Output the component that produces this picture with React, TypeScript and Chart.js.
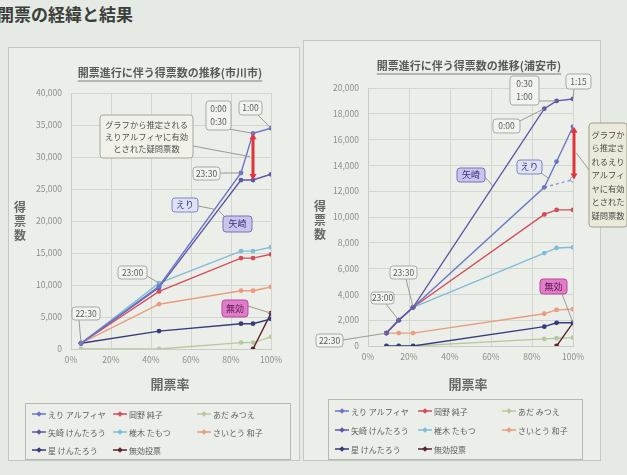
import React, { useEffect, useRef } from "react";
import { Chart, registerables } from "chart.js";
Chart.register(...registerables);

const JP = '"Noto Sans CJK JP", "Noto Sans", sans-serif';

// ---------- legend ----------
const seriesNames = ["えり アルフィヤ", "岡野 純子", "あだ みつえ", "矢崎 けんたろう", "椎木 たもつ", "さいとう 和子", "星 けんたろう", "無効投票"];
const seriesColors = ["#6a76c8", "#d24d5c", "#b7c99c", "#6058a4", "#80bdd7", "#e99d7d", "#363b7c", "#5a2632"];

// ---------- 市川市 ----------
const ichikawaRate = [5, 44, 85, 91, 100];
const ichikawaEri = [900, 9800, 27500, 33700, 34500];
const ichikawaOkano = [900, 9000, 14200, 14200, 14800];
const ichikawaAda = [0, 0, 1000, 1000, 1900];
const ichikawaYasaki = [900, 9600, 26400, 26400, 27300];
const ichikawaShiiki = [900, 10300, 15300, 15300, 15900];
const ichikawaSaito = [900, 7000, 9100, 9100, 9700];
const ichikawaHoshi = [900, 2800, 3950, 3950, 4700];
const ichikawaMukou = [null, null, null, 0, 5600];
const ichikawaTimes = [["22:30"], ["23:00"], ["23:30"], ["0:00", "0:30"], ["1:00"]];

// ---------- 浦安市 ----------
const urayasuRate = [9, 15, 22, 86, 92, 100];
const urayasuEri = [1000, 2000, 3000, 12300, 14300, 17000];
const urayasuEriEstimate = [null, null, null, 12300, null, 12900];
const urayasuOkano = [1000, 2000, 3000, 10200, 10550, 10550];
const urayasuAda = [0, 0, 0, 550, 600, 650];
const urayasuYasaki = [1000, 2000, 3000, 18400, 19000, 19150];
const urayasuShiiki = [1000, 2000, 3000, 7200, 7600, 7650];
const urayasuSaito = [1000, 1000, 1000, 2500, 2800, 2850];
const urayasuHoshi = [0, 0, 0, 1500, 1800, 1800];
const urayasuMukou = [null, null, null, null, 0, 1800];
const urayasuTimes = [["22:30"], ["23:00"], ["23:30"], ["0:00"], ["0:30", "1:00"], ["1:15"]];

const calloutText = ["グラフから推定される", "えりアルフィヤに有効", "とされた疑問票数"];
const calloutTextVertical = ["グラフか", "ら推定さ", "れるえり", "アルフィ", "ヤに有効", "とされた", "疑問票数"];

function pts(xs: number[], ys: (number | null)[]) {
  return xs.map((x, i) => ({ x, y: ys[i] })).filter((p) => p.y !== null);
}

function ds(label: string, color: string, data: any[], extra: any = {}) {
  return {
    label,
    data,
    borderColor: color,
    backgroundColor: color,
    pointBackgroundColor: color,
    pointBorderColor: color,
    borderWidth: 1.4,
    pointRadius: 2.4,
    pointBorderWidth: 0,
    tension: 0,
    ...extra,
  };
}

function rr(ctx: CanvasRenderingContext2D, x: number, y: number, w: number, h: number, r: number) {
  ctx.beginPath();
  ctx.moveTo(x + r, y);
  ctx.lineTo(x + w - r, y);
  ctx.quadraticCurveTo(x + w, y, x + w, y + r);
  ctx.lineTo(x + w, y + h - r);
  ctx.quadraticCurveTo(x + w, y + h, x + w - r, y + h);
  ctx.lineTo(x + r, y + h);
  ctx.quadraticCurveTo(x, y + h, x, y + h - r);
  ctx.lineTo(x, y + r);
  ctx.quadraticCurveTo(x, y, x + r, y);
  ctx.closePath();
}

type CalloutOpt = {
  box: number[]; // abs x,y,w,h
  lines: string[];
  anchor?: number[]; // abs
  target?: number[]; // canvas px
  fill?: string;
  stroke?: string;
  color?: string;
  size?: number;
  lh?: number;
  bold?: boolean;
};

function drawCallout(ctx: CanvasRenderingContext2D, o: number[], c: CalloutOpt) {
  const [bx, by, bw, bh] = c.box;
  const x = bx - o[0];
  const y = by - o[1];
  if (c.anchor && c.target) {
    ctx.save();
    ctx.strokeStyle = "#8d918c";
    ctx.lineWidth = 0.9;
    ctx.beginPath();
    ctx.moveTo(c.anchor[0] - o[0], c.anchor[1] - o[1]);
    ctx.lineTo(c.target[0], c.target[1]);
    ctx.stroke();
    ctx.restore();
  }
  ctx.save();
  rr(ctx, x, y, bw, bh, 3);
  ctx.fillStyle = c.fill || "#f2f3ef";
  ctx.fill();
  ctx.strokeStyle = c.stroke || "#a7aba6";
  ctx.lineWidth = 1;
  ctx.stroke();
  const size = c.size || 8.5;
  const lh = c.lh || size + 3;
  ctx.font = `${c.bold ? "bold " : ""}${size}px ${JP}`;
  ctx.fillStyle = c.color || "#5a5e5a";
  ctx.textAlign = "center";
  ctx.textBaseline = "middle";
  const n = c.lines.length;
  c.lines.forEach((t, i) => {
    ctx.fillText(t, x + bw / 2, y + bh / 2 + (i - (n - 1) / 2) * lh);
  });
  ctx.restore();
}

function redArrow(ctx: CanvasRenderingContext2D, x: number, yTop: number, yBot: number) {
  ctx.save();
  ctx.strokeStyle = "#e2323b";
  ctx.fillStyle = "#e2323b";
  ctx.lineWidth = 3;
  ctx.beginPath();
  ctx.moveTo(x, yTop + 4);
  ctx.lineTo(x, yBot - 4);
  ctx.stroke();
  ctx.beginPath();
  ctx.moveTo(x, yTop);
  ctx.lineTo(x - 3.5, yTop + 6);
  ctx.lineTo(x + 3.5, yTop + 6);
  ctx.closePath();
  ctx.fill();
  ctx.beginPath();
  ctx.moveTo(x, yBot);
  ctx.lineTo(x - 3.5, yBot - 6);
  ctx.lineTo(x + 3.5, yBot - 6);
  ctx.closePath();
  ctx.fill();
  ctx.restore();
}

function drawLegend(ctx: CanvasRenderingContext2D, o: number[], box: number[], rows: number[], cols: number[]) {
  ctx.save();
  ctx.strokeStyle = "#b5b9b3";
  ctx.lineWidth = 1;
  ctx.strokeRect(box[0] - o[0] + 0.5, box[1] - o[1] + 0.5, box[2], box[3]);
  ctx.font = `8px ${JP}`;
  ctx.textBaseline = "middle";
  ctx.textAlign = "left";
  seriesNames.forEach((name, i) => {
    const r = Math.floor(i / 3);
    const c = i % 3;
    const x = cols[c] - o[0];
    const y = rows[r] - o[1];
    const col = seriesColors[i];
    ctx.strokeStyle = col;
    ctx.fillStyle = col;
    ctx.lineWidth = 1.5;
    ctx.beginPath();
    ctx.moveTo(x, y);
    ctx.lineTo(x + 14, y);
    ctx.stroke();
    ctx.beginPath();
    ctx.moveTo(x + 7, y - 2.8);
    ctx.lineTo(x + 9.8, y);
    ctx.lineTo(x + 7, y + 2.8);
    ctx.lineTo(x + 4.2, y);
    ctx.closePath();
    ctx.fill();
    ctx.fillStyle = "#5d615c";
    ctx.fillText(name, x + 16, y + 0.5);
  });
  ctx.restore();
}

function drawTitles(ctx: CanvasRenderingContext2D, o: number[], title: string, tc: number[], yt: number[], xt: number[]) {
  ctx.save();
  ctx.fillStyle = "#575b57";
  ctx.font = `bold 11px ${JP}`;
  ctx.textAlign = "center";
  ctx.textBaseline = "middle";
  ctx.fillText(title, tc[0] - o[0], tc[1] - o[1]);
  const w = ctx.measureText(title).width;
  ctx.strokeStyle = "#7a7e79";
  ctx.lineWidth = 1;
  ctx.beginPath();
  ctx.moveTo(tc[0] - o[0] - w / 2, tc[1] - o[1] + 8);
  ctx.lineTo(tc[0] - o[0] + w / 2, tc[1] - o[1] + 8);
  ctx.stroke();
  ctx.font = `bold 12px ${JP}`;
  ctx.fillStyle = "#666a66";
  ["得", "票", "数"].forEach((ch, i) => ctx.fillText(ch, yt[0] - o[0], yt[1] - o[1] + i * 14));
  ctx.font = `bold 13px ${JP}`;
  ctx.fillText("開票率", xt[0] - o[0], xt[1] - o[1]);
  ctx.restore();
}

function baseOptions(yMax: number, yStep: number, padding: any, yWidth: number) {
  return {
    responsive: false,
    animation: false,
    layout: { padding },
    plugins: { legend: { display: false }, title: { display: false }, tooltip: { enabled: false } },
    scales: {
      x: {
        type: "linear",
        min: 0,
        max: 100,
        ticks: { stepSize: 20, callback: (v: any) => v + "%", color: "#8b8f8a", font: { size: 8.5, family: JP }, padding: 6 },
        grid: { color: "#d2d6d0", drawTicks: false },
        border: { color: "#c8ccc6" },
        afterFit: (s: any) => {
          s.height = 40;
        },
      },
      y: {
        type: "linear",
        min: 0,
        max: yMax,
        ticks: {
          stepSize: yStep,
          callback: (v: any) => Number(v).toLocaleString("en-US"),
          color: "#8b8f8a",
          font: { size: 8.5, family: JP },
          padding: 9,
        },
        grid: { color: "#d2d6d0", drawTicks: false },
        border: { color: "#c8ccc6" },
        afterFit: (s: any) => {
          s.width = yWidth;
        },
      },
    },
  };
}

function along(sx: any, sy: any, x1: number, y1: number, x2: number, y2: number, t: number) {
  const ax = sx.getPixelForValue(x1), ay = sy.getPixelForValue(y1);
  const bx = sx.getPixelForValue(x2), by = sy.getPixelForValue(y2);
  return [ax + (bx - ax) * t, ay + (by - ay) * t];
}

function leftConfig(): any {
  const xs = ichikawaRate;
  const o = [8, 47];
  const plugin = {
    id: "ichikawaDeco",
    afterDraw(chart: any) {
      const ctx = chart.ctx as CanvasRenderingContext2D;
      const sx = chart.scales.x, sy = chart.scales.y;
      const P = (x: number, y: number) => [sx.getPixelForValue(x), sy.getPixelForValue(y)];
      drawTitles(ctx, o, "開票進行に伴う得票数の推移(市川市)", [170, 73], [20, 207], [170, 384]);
      drawLegend(ctx, o, [25, 403, 265, 56], [414, 432, 450], [32, 113, 197]);
      const arrowX = sx.getPixelForValue(xs[3]);
      redArrow(ctx, arrowX, sy.getPixelForValue(ichikawaEri[3]), sy.getPixelForValue(ichikawaYasaki[3]));
      drawCallout(ctx, o, { box: [72, 307, 28, 13], lines: ichikawaTimes[0], anchor: [79, 320], target: P(xs[0], ichikawaEri[0]) });
      drawCallout(ctx, o, { box: [118, 266, 29, 13], lines: ichikawaTimes[1], anchor: [147, 276], target: P(xs[1], ichikawaShiiki[1]) });
      drawCallout(ctx, o, { box: [193, 167, 27, 13], lines: ichikawaTimes[2], anchor: [220, 173], target: P(xs[2], ichikawaEri[2]) });
      drawCallout(ctx, o, { box: [206, 101, 25, 29], lines: ichikawaTimes[3], anchor: [229, 129], target: P(xs[3], ichikawaEri[3]), lh: 13 });
      drawCallout(ctx, o, { box: [239, 101, 23, 14], lines: ichikawaTimes[4], anchor: [258, 115], target: P(xs[4], ichikawaEri[4]) });
      drawCallout(ctx, o, {
        box: [100, 115, 93, 43],
        lines: calloutText,
        anchor: [193, 146],
        target: [arrowX - 3, sy.getPixelForValue((ichikawaEri[3] + ichikawaYasaki[3]) / 2)],
        fill: "#f1f1ea",
        stroke: "#a6a79c",
        color: "#4e524e",
        size: 8.3,
        lh: 12,
      });
      drawCallout(ctx, o, {
        box: [172, 198, 26, 14],
        lines: ["えり"],
        anchor: [198, 206],
        target: along(sx, sy, xs[1], ichikawaEri[1], xs[2], ichikawaEri[2], 0.68),
        fill: "#e0e2f3",
        stroke: "#7f86c6",
        color: "#30357a",
        size: 9,
      });
      drawCallout(ctx, o, {
        box: [223, 216, 29, 16],
        lines: ["矢崎"],
        anchor: [225, 217],
        target: along(sx, sy, xs[1], ichikawaYasaki[1], xs[2], ichikawaYasaki[2], 0.72),
        fill: "#c9c4ea",
        stroke: "#7a70bf",
        color: "#3a2f80",
        size: 9,
      });
      drawCallout(ctx, o, {
        box: [222, 300, 26, 17],
        lines: ["無効"],
        anchor: [248, 306],
        target: P(xs[4], ichikawaMukou[4] as number),
        fill: "#e07cc8",
        stroke: "#b54b9b",
        color: "#5a1850",
        size: 9,
      });
    },
  };
  return {
    type: "line",
    data: {
      datasets: [
        ds(seriesNames[0], seriesColors[0], pts(xs, ichikawaEri)),
        ds(seriesNames[3], seriesColors[3], pts(xs, ichikawaYasaki)),
        ds(seriesNames[1], seriesColors[1], pts(xs, ichikawaOkano)),
        ds(seriesNames[4], seriesColors[4], pts(xs, ichikawaShiiki)),
        ds(seriesNames[5], seriesColors[5], pts(xs, ichikawaSaito)),
        ds(seriesNames[6], seriesColors[6], pts(xs, ichikawaHoshi)),
        ds(seriesNames[7], seriesColors[7], pts(xs, ichikawaMukou)),
        ds(seriesNames[2], seriesColors[2], pts(xs, ichikawaAda)),
      ],
    },
    options: baseOptions(40000, 5000, { left: 0, right: 29, top: 46, bottom: 73 }, 63),
    plugins: [plugin],
  };
}

function rightConfig(): any {
  const xs = urayasuRate;
  const o = [303, 40];
  const plugin = {
    id: "urayasuDeco",
    afterDraw(chart: any) {
      const ctx = chart.ctx as CanvasRenderingContext2D;
      const sx = chart.scales.x, sy = chart.scales.y;
      const P = (x: number, y: number) => [sx.getPixelForValue(x), sy.getPixelForValue(y)];
      drawTitles(ctx, o, "開票進行に伴う得票数の推移(浦安市)", [469, 66], [320, 206], [468, 384]);
      drawLegend(ctx, o, [328, 399, 254, 60], [411, 430, 449], [335, 418, 502]);
      const arrowX = sx.getPixelForValue(xs[5]) + 1;
      redArrow(ctx, arrowX, sy.getPixelForValue(urayasuEri[5]), sy.getPixelForValue(urayasuEriEstimate[5] as number));
      drawCallout(ctx, o, { box: [316, 334, 27, 13], lines: urayasuTimes[0], anchor: [343, 340], target: P(xs[0], urayasuEri[0]) });
      drawCallout(ctx, o, { box: [371, 292, 23, 12], lines: urayasuTimes[1], anchor: [386, 304], target: P(xs[1], urayasuEri[1]) });
      drawCallout(ctx, o, { box: [390, 266, 27, 13], lines: urayasuTimes[2], anchor: [406, 279], target: P(xs[2], urayasuEri[2]) });
      drawCallout(ctx, o, { box: [493, 119, 27, 14], lines: urayasuTimes[3], anchor: [520, 121], target: P(xs[3], urayasuYasaki[3]) });
      drawCallout(ctx, o, { box: [510, 76, 29, 29], lines: urayasuTimes[4], anchor: [537, 101], target: P(xs[4], urayasuYasaki[4]), lh: 13 });
      drawCallout(ctx, o, { box: [566, 74, 25, 15], lines: urayasuTimes[5], anchor: [574, 89], target: P(xs[5], urayasuYasaki[5]) });
      drawCallout(ctx, o, {
        box: [457, 168, 28, 14],
        lines: ["矢崎"],
        anchor: [485, 177],
        target: along(sx, sy, xs[2], urayasuYasaki[2], xs[3], urayasuYasaki[3], 0.61),
        fill: "#c9c4ea",
        stroke: "#7a70bf",
        color: "#3a2f80",
        size: 9,
      });
      drawCallout(ctx, o, {
        box: [517, 160, 25, 14],
        lines: ["えり"],
        anchor: [541, 173],
        target: along(sx, sy, xs[3], urayasuEri[3], xs[4], urayasuEri[4], 0.35),
        fill: "#e0e2f3",
        stroke: "#7f86c6",
        color: "#30357a",
        size: 9,
      });
      drawCallout(ctx, o, {
        box: [540, 279, 27, 15],
        lines: ["無効"],
        anchor: [562, 294],
        target: P(xs[5], urayasuMukou[5] as number),
        fill: "#e07cc8",
        stroke: "#b54b9b",
        color: "#5a1850",
        size: 9,
      });
      drawCallout(ctx, o, {
        box: [589, 123, 38, 104],
        lines: calloutTextVertical,
        anchor: [589, 170],
        target: [arrowX + 2, sy.getPixelForValue(15000)],
        fill: "#ebe9da",
        stroke: "#9f9d8c",
        color: "#4a4c46",
        size: 8.3,
        lh: 13.5,
      });
    },
  };
  return {
    type: "line",
    data: {
      datasets: [
        ds(seriesNames[3], seriesColors[3], pts(xs, urayasuYasaki)),
        ds(seriesNames[0], seriesColors[0], pts(xs, urayasuEri)),
        ds(seriesNames[0] + "(推定)", seriesColors[0], pts(xs, urayasuEriEstimate), {
          borderDash: [3, 3],
          pointRadius: [0, 2.6],
          pointBackgroundColor: "#e6e8f2",
          pointBorderColor: "#9aa0cc",
          pointBorderWidth: 1,
          borderColor: "#8f96cc",
        }),
        ds(seriesNames[1], seriesColors[1], pts(xs, urayasuOkano)),
        ds(seriesNames[4], seriesColors[4], pts(xs, urayasuShiiki)),
        ds(seriesNames[5], seriesColors[5], pts(xs, urayasuSaito)),
        ds(seriesNames[6], seriesColors[6], pts(xs, urayasuHoshi)),
        ds(seriesNames[7], seriesColors[7], pts(xs, urayasuMukou)),
        ds(seriesNames[2], seriesColors[2], pts(xs, urayasuAda)),
      ],
    },
    options: baseOptions(20000, 2000, { left: 0, right: 54, top: 48, bottom: 74 }, 65),
    plugins: [plugin],
  };
}

export default function App() {
  const leftRef = useRef<HTMLCanvasElement>(null);
  const rightRef = useRef<HTMLCanvasElement>(null);
  useEffect(() => {
    const c1 = new Chart(leftRef.current as HTMLCanvasElement, leftConfig());
    const c2 = new Chart(rightRef.current as HTMLCanvasElement, rightConfig());
    return () => {
      c1.destroy();
      c2.destroy();
    };
  }, []);
  return (
    <div
      style={{
        position: "absolute",
        left: 0,
        top: 0,
        width: 627,
        height: 475,
        overflow: "hidden",
        background: "#e6eae4",
        fontFamily: JP,
      }}
    >
      <div style={{ position: "absolute", left: -3, top: 1, fontSize: 17, fontWeight: 700, color: "#3b3e3b", whiteSpace: "nowrap" }}>
        開票の経緯と結果
      </div>
      <div
        style={{
          position: "absolute",
          left: 8,
          top: 47,
          width: 292,
          height: 414,
          background: "#eceee9",
          border: "1px solid #c4c8c2",
          boxSizing: "border-box",
        }}
      />
      <div
        style={{
          position: "absolute",
          left: 303,
          top: 40,
          width: 298,
          height: 421,
          background: "#eceee9",
          border: "1px solid #c4c8c2",
          boxSizing: "border-box",
        }}
      />
      <canvas ref={leftRef} width={292} height={415} style={{ position: "absolute", left: 8, top: 47, width: 292, height: 415 }} />
      <canvas ref={rightRef} width={324} height={420} style={{ position: "absolute", left: 303, top: 40, width: 324, height: 420 }} />
    </div>
  );
}
